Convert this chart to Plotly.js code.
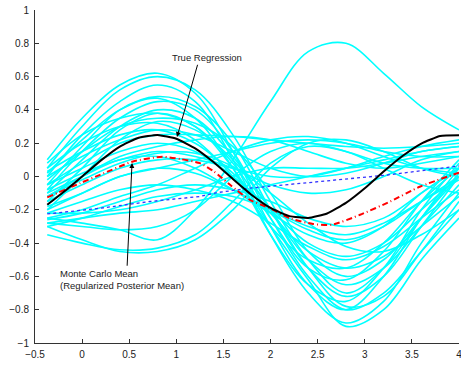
<!DOCTYPE html>
<html>
<head>
<meta charset="utf-8">
<script src="https://cdn.plot.ly/plotly-3.0.1.min.js"></script>
<style>
  html, body { margin: 0; padding: 0; background: #fff; }
  #plot { width: 461px; height: 365px; }
</style>
</head>
<body>
<div id="plot"></div>
<script>
// Sample grid shared by the posterior draws
const sampleX = [-0.37, 0.0, 0.4, 0.8, 1.2, 1.6, 2.0, 2.4, 2.8, 3.2, 3.6, 4.0];

// Posterior sample curves (cyan)
const samples = [
  [0.10, 0.35, 0.55, 0.62, 0.50, 0.15, -0.30, -0.65, -0.80, -0.60, -0.25, 0.05],
  [0.05, 0.30, 0.52, 0.60, 0.52, 0.25, -0.15, -0.50, -0.70, -0.55, -0.25, 0.02],
  [0.00, 0.25, 0.45, 0.55, 0.45, 0.10, -0.35, -0.70, -0.88, -0.75, -0.40, -0.10],
  [-0.05, 0.18, 0.40, 0.48, 0.42, 0.20, -0.20, -0.55, -0.72, -0.60, -0.30, 0.00],
  [0.02, 0.22, 0.40, 0.47, 0.35, 0.05, -0.35, -0.65, -0.75, -0.55, -0.20, 0.08],
  [-0.08, 0.15, 0.35, 0.45, 0.40, 0.15, -0.25, -0.60, -0.80, -0.70, -0.45, -0.20],
  [-0.10, 0.10, 0.30, 0.40, 0.35, 0.12, -0.20, -0.50, -0.65, -0.55, -0.30, -0.05],
  [0.08, 0.25, 0.35, 0.38, 0.30, 0.08, -0.25, -0.55, -0.62, -0.45, -0.15, 0.10],
  [-0.15, 0.05, 0.28, 0.38, 0.30, 0.05, -0.30, -0.62, -0.90, -0.80, -0.50, -0.25],
  [-0.02, 0.15, 0.30, 0.35, 0.32, 0.18, -0.10, -0.45, -0.60, -0.50, -0.25, 0.00],
  [-0.20, 0.00, 0.22, 0.33, 0.28, 0.10, -0.20, -0.55, -0.78, -0.72, -0.45, -0.15],
  [0.05, 0.20, 0.30, 0.32, 0.22, 0.00, -0.30, -0.50, -0.55, -0.40, -0.15, 0.05],
  [-0.05, 0.08, 0.20, 0.25, 0.25, 0.24, 0.22, 0.20, 0.18, 0.17, 0.18, 0.20],
  [-0.12, 0.00, 0.12, 0.18, 0.22, 0.24, 0.22, 0.15, 0.08, 0.05, 0.08, 0.12],
  [0.00, 0.12, 0.22, 0.28, 0.25, 0.15, 0.05, 0.00, 0.02, 0.08, 0.15, 0.18],
  [-0.20, -0.10, 0.00, 0.05, 0.10, 0.15, 0.20, 0.22, 0.20, 0.15, 0.12, 0.12],
  [-0.25, -0.20, -0.12, -0.05, 0.05, 0.15, 0.22, 0.24, 0.20, 0.12, 0.05, 0.02],
  [-0.15, -0.05, 0.05, 0.10, 0.10, 0.05, 0.00, 0.00, 0.05, 0.12, 0.18, 0.22],
  [-0.08, 0.02, 0.10, 0.15, 0.12, 0.05, -0.05, -0.10, -0.08, 0.00, 0.10, 0.15],
  [-0.30, -0.38, -0.45, -0.45, -0.38, -0.20, 0.05, 0.20, 0.22, 0.15, 0.05, 0.00],
  [-0.35, -0.40, -0.44, -0.43, -0.35, -0.15, 0.08, 0.18, 0.15, 0.05, -0.05, -0.10],
  [-0.28, -0.30, -0.32, -0.30, -0.20, 0.00, 0.15, 0.20, 0.15, 0.08, 0.05, 0.05],
  [-0.25, -0.28, -0.32, -0.38, -0.20, 0.10, 0.45, 0.75, 0.80, 0.62, 0.42, 0.28],
  [-0.22, -0.22, -0.20, -0.15, -0.08, 0.00, 0.05, 0.05, 0.05, 0.08, 0.12, 0.15],
  [-0.28, -0.25, -0.22, -0.20, -0.15, -0.10, -0.05, 0.00, 0.05, 0.10, 0.15, 0.18],
  [-0.10, 0.00, 0.10, 0.12, 0.05, -0.08, -0.22, -0.35, -0.40, -0.30, -0.10, 0.05],
  [-0.18, -0.10, 0.00, 0.05, 0.02, -0.08, -0.20, -0.32, -0.38, -0.30, -0.15, 0.00],
  [-0.05, 0.05, 0.15, 0.20, 0.15, 0.00, -0.20, -0.40, -0.48, -0.40, -0.20, 0.00],
  [-0.22, -0.15, -0.08, -0.05, -0.08, -0.15, -0.28, -0.42, -0.50, -0.42, -0.25, -0.08],
  [-0.30, -0.25, -0.18, -0.12, -0.10, -0.12, -0.20, -0.30, -0.35, -0.28, -0.15, -0.02],
  [0.03, 0.15, 0.25, 0.28, 0.20, 0.02, -0.22, -0.45, -0.55, -0.48, -0.30, -0.12],
  [-0.12, -0.02, 0.08, 0.14, 0.14, 0.06, -0.10, -0.28, -0.42, -0.45, -0.35, -0.20],
  [-0.26, -0.22, -0.15, -0.08, -0.05, -0.08, -0.15, -0.25, -0.30, -0.25, -0.10, 0.05]
];

// True regression curve
const trueX = [-0.37, -0.2, 0.0, 0.2, 0.4, 0.6, 0.8, 1.0, 1.2, 1.4, 1.6, 1.8, 2.0, 2.2, 2.4, 2.6, 2.8, 3.0, 3.2, 3.4, 3.6, 3.8, 4.0];
const trueY = [-0.17, -0.095, 0.0, 0.097, 0.18, 0.233, 0.25, 0.227, 0.169, 0.084, -0.015, -0.111, -0.189, -0.238, -0.249, -0.222, -0.158, -0.07, 0.03, 0.123, 0.198, 0.243, 0.247];

// Monte Carlo mean of the draws
const meanX = [-0.37, -0.02, 0.19, 0.54, 0.85, 1.04, 1.25, 1.4, 1.57, 1.78, 1.99, 2.2, 2.45, 2.65, 2.95, 3.27, 3.59, 4.0];
const meanY = [-0.125, -0.04, 0.01, 0.09, 0.118, 0.105, 0.08, 0.03, -0.05, -0.14, -0.19, -0.25, -0.285, -0.29, -0.23, -0.15, -0.06, 0.023];

// Linear fit (blue dotted)
const linX = [-0.37, 0.2, 0.72, 1.25, 1.43, 1.78, 2.4, 3.24, 4.0];
const linY = [-0.225, -0.19, -0.15, -0.12, -0.097, -0.07, -0.037, 0.009, 0.063];

const traces = samples.map(ys => ({
  x: sampleX, y: ys, type: 'scatter', mode: 'lines',
  line: { color: '#00ffff', width: 1.6, shape: 'spline', smoothing: 1 },
  hoverinfo: 'skip', showlegend: false
}));

traces.push({
  x: linX, y: linY, type: 'scatter', mode: 'lines',
  line: { color: '#3333ff', width: 1.3, dash: 'dot' },
  showlegend: false
});
traces.push({
  x: meanX, y: meanY, type: 'scatter', mode: 'lines',
  line: { color: '#ff0000', width: 2, dash: '6px,3px,1px,3px', shape: 'spline', smoothing: 0.6 },
  showlegend: false
});
traces.push({
  x: trueX, y: trueY, type: 'scatter', mode: 'lines',
  line: { color: '#000000', width: 2, shape: 'spline', smoothing: 0.4 },
  showlegend: false
});

const labelFont = { family: 'Liberation Sans, Arial, sans-serif', size: 9.5, color: '#222' };

const layout = {
  width: 461, height: 365,
  margin: { l: 35, r: 2, t: 10, b: 22 },
  paper_bgcolor: '#fff', plot_bgcolor: '#fff',
  showlegend: false,
  font: { family: 'Liberation Sans, Arial, sans-serif', size: 10, color: '#222' },
  xaxis: {
    range: [-0.5, 4], tickmode: 'array',
    tickvals: [-0.5, 0, 0.5, 1, 1.5, 2, 2.5, 3, 3.5, 4],
    ticktext: ['\u22120.5', '0', '0.5', '1', '1.5', '2', '2.5', '3', '3.5', '4'],
    ticks: 'inside', ticklen: 4, tickcolor: '#333', tickwidth: 1,
    showline: true, linecolor: '#333', linewidth: 1, mirror: false,
    showgrid: false, zeroline: false, ticklabelstandoff: 2,
    ticklabeloverflow: 'allow'
  },
  yaxis: {
    range: [-1, 1], tickmode: 'array',
    tickvals: [-1, -0.8, -0.6, -0.4, -0.2, 0, 0.2, 0.4, 0.6, 0.8, 1],
    ticktext: ['\u22121', '\u22120.8', '\u22120.6', '\u22120.4', '\u22120.2', '0', '0.2', '0.4', '0.6', '0.8', '1'],
    ticks: 'inside', ticklen: 4, tickcolor: '#333', tickwidth: 1,
    showline: true, linecolor: '#333', linewidth: 1, mirror: false,
    showgrid: false, zeroline: false, ticklabelstandoff: 3,
    ticklabeloverflow: 'allow'
  },
  annotations: [
    { x: 1.007, y: 0.237, ax: 1.23, ay: 0.68, axref: 'x', ayref: 'y', xref: 'x', yref: 'y',
      text: '', showarrow: true, arrowhead: 2, arrowsize: 1, arrowwidth: 1, arrowcolor: '#000' },
    { x: 0.53, y: 0.081, ax: 0.477, ay: -0.545, axref: 'x', ayref: 'y', xref: 'x', yref: 'y',
      text: '', showarrow: true, arrowhead: 2, arrowsize: 1, arrowwidth: 1, arrowcolor: '#000' },
    { x: 1.326, y: 0.715, xref: 'x', yref: 'y', text: 'True Regression', showarrow: false,
      xanchor: 'center', yanchor: 'middle', font: labelFont },
    { x: -0.26, y: -0.535, xref: 'x', yref: 'y',
      text: 'Monte Carlo Mean<br>(Regularized Posterior Mean)', showarrow: false,
      xanchor: 'left', yanchor: 'top', align: 'left', font: labelFont }
  ]
};

Plotly.newPlot('plot', traces, layout, { staticPlot: true, displayModeBar: false });
</script>
</body>
</html>
